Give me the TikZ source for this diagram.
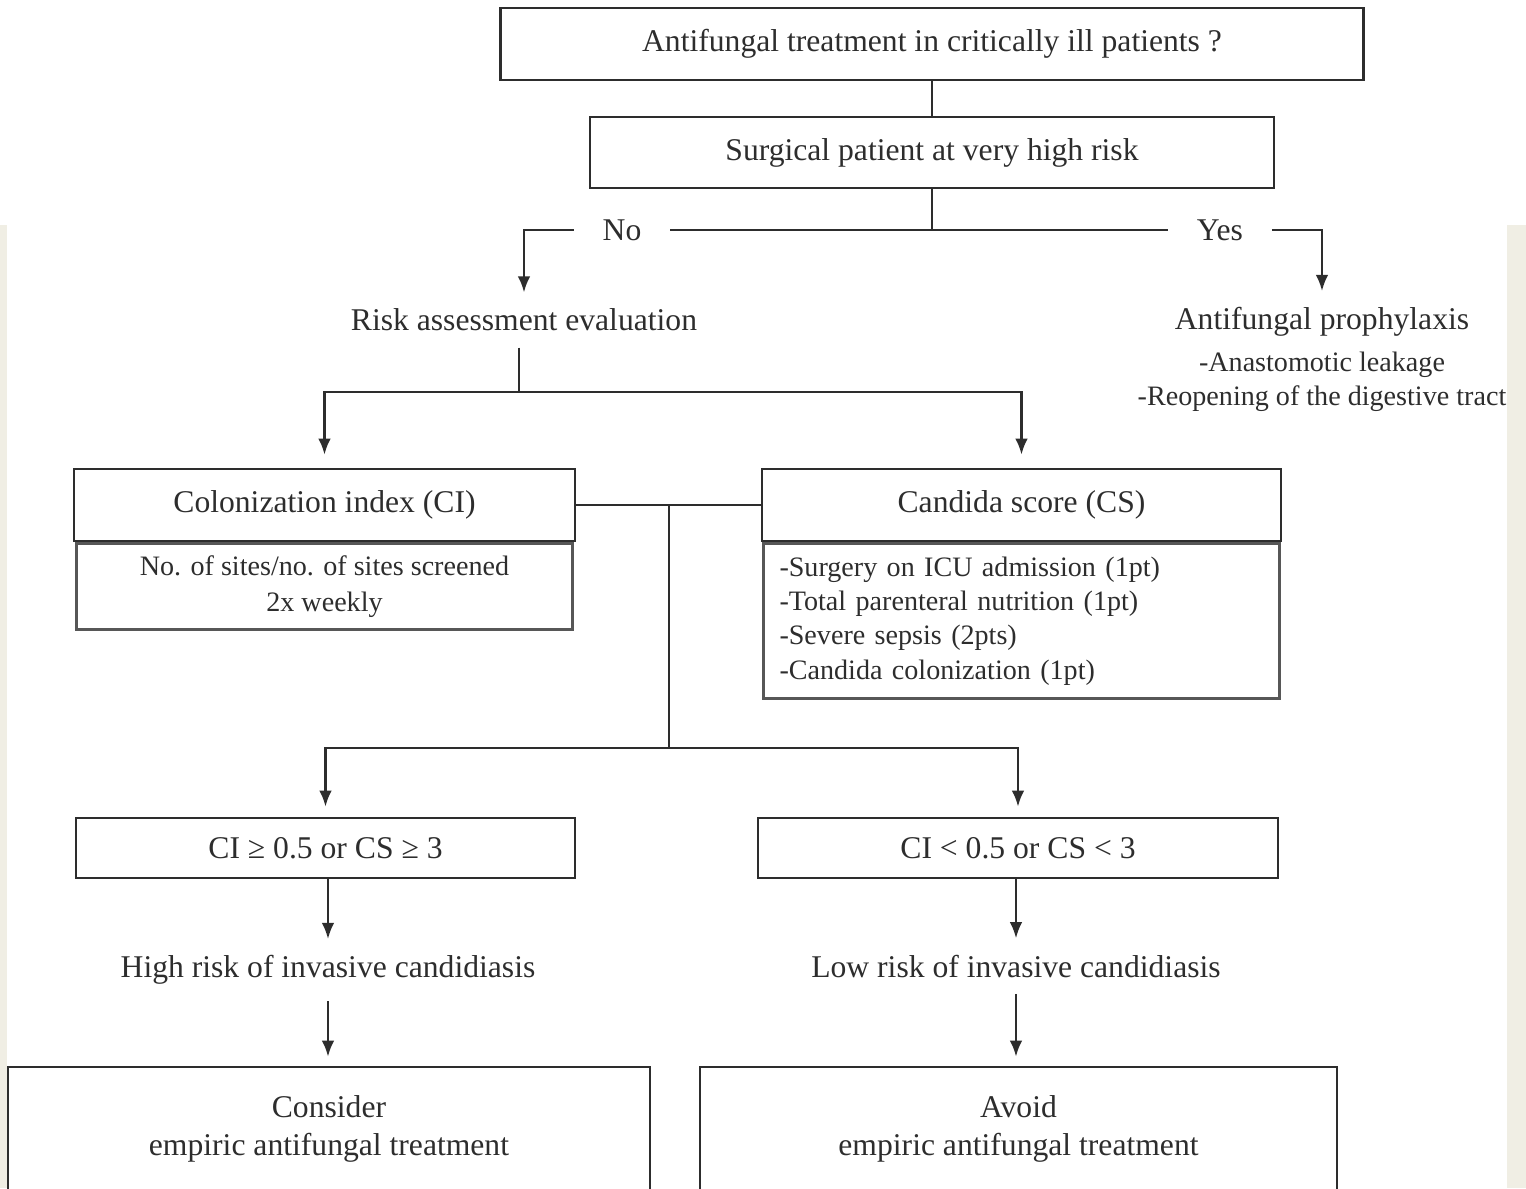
\documentclass[tikz,border=0pt]{standalone}
\usepackage{fontspec}
\setmainfont{Liberation Serif}
\usetikzlibrary{arrows.meta,positioning}
\definecolor{inkgray}{RGB}{45,45,45}
\definecolor{pagebeige}{RGB}{240,238,228}

\begin{document}
\begin{tikzpicture}[
  box/.style={draw=inkgray, line width=0.8pt, minimum height=0.72cm, inner sep=0pt,
    text=inkgray, font=\fontsize{9}{10.8}\selectfont, align=center},
  subbox/.style={box, draw=inkgray!80, line width=0.7pt, font=\fontsize{8}{9.8}\selectfont},
  txt/.style={text=inkgray, font=\fontsize{9}{9.7}\selectfont, inner sep=4.5pt, align=center},
  line/.style={draw=inkgray, line width=0.6pt},
  arr/.style={line, -{Latex[length=1.6mm,width=1.25mm]}}
]
\useasboundingbox (0,0) rectangle (15.26,-11.88);
\clip (0,0) rectangle (15.26,-11.88);

% page margins
\fill[pagebeige] (0,-2.25) rectangle (0.07,-11.88);
\fill[pagebeige] (15.07,-2.25) rectangle (15.26,-11.88);

% question
\node[box, minimum width=8.63cm] (top) at (9.32,-0.44) {Antifungal treatment in critically ill patients ?};
\node[box, minimum width=6.84cm, minimum height=0.71cm] (surg) at (9.32,-1.525) {Surgical patient at very high risk};
\draw[line] (top.south) -- (surg.north);

\node[txt, inner xsep=8pt] (no) at (6.22,-2.30) {No};
\node[txt, inner xsep=8pt] (yes) at (12.20,-2.30) {Yes};
\node[txt] (risk) at (5.24,-3.20) {Risk assessment evaluation};
\node[txt] (proph) at (13.22,-3.22) {Antifungal prophylaxis};
\node[txt, font=\fontsize{8}{9.7}\selectfont] (leak) at (13.22,-3.815) {-Anastomotic leakage\\-Reopening of the digestive tract};

\draw[line] (surg.south) -- (surg.south |- no.east);
\draw[line] (no.east) -- (yes.west);
\draw[arr] (no.west) -| (risk.north);
\draw[arr] (yes.east) -| (proph.north);

% scores
\node[box, minimum width=5.01cm] (ci) at (3.245,-5.05) {Colonization index (CI)};
\node[subbox, minimum width=4.96cm, minimum height=0.86cm, below=0pt of ci,
  font=\fontsize{8}{10}\selectfont] (cibody) {No. of sites/no. of sites screened\\2x weekly};
\node[box, minimum width=5.19cm] (cs) at (10.215,-5.05) {Candida score (CS)};
\node[subbox, minimum height=1.55cm, below=0pt of cs, inner xsep=0.16cm, text width=4.84cm,
  align=left, font=\fontsize{8}{9.7}\selectfont] (csbody)
  {-Surgery on ICU admission (1pt)\\-Total parenteral nutrition (1pt)\\-Severe sepsis (2pts)\\-Candida colonization (1pt)};

\coordinate (fork) at (5.19,-3.92);
\draw[line] (risk.south -| fork) -- (fork);
\foreach \n in {ci,cs}
  {\draw[arr, shorten >=0.13cm] (fork) -| (\n.north);}

\draw[line] (ci.east) -- (cs.west);

% risk levels
\node[box, minimum width=4.99cm, minimum height=0.60cm] (hi) at (3.255,-8.48) {CI ≥ 0.5 or CS ≥ 3};
\node[box, minimum width=5.20cm, minimum height=0.60cm] (lo) at (10.18,-8.48) {CI < 0.5 or CS < 3};

\coordinate (split) at (6.69,-7.48);
\draw[line] (ci.east -| split) -- (split);
\foreach \n in {hi,lo}
  {\draw[arr, shorten >=0.1cm] (split) -| (\n.north);}

\node[txt] (hirisk) at (3.28,-9.70) {High risk of invasive candidiasis};
\node[txt] (lorisk) at (10.16,-9.66) {Low risk of invasive candidiasis};

\node[box, minimum width=6.42cm, minimum height=1.23cm] (cons) at (3.29,-11.285) {Consider\\empiric antifungal treatment};
\node[box, minimum width=6.37cm, minimum height=1.23cm] (avoid) at (10.185,-11.285) {Avoid\\empiric antifungal treatment};

\draw[arr] (hirisk.north |- hi.south) -- (hirisk.north);
\draw[arr] (lorisk.north |- lo.south) -- (lorisk.north);
\draw[arr, shorten >=0.09cm] (hirisk.south) -- (hirisk.south |- cons.north);
\draw[arr, shorten >=0.09cm] (lorisk.south) -- (lorisk.south |- avoid.north);
\end{tikzpicture}
\end{document}
